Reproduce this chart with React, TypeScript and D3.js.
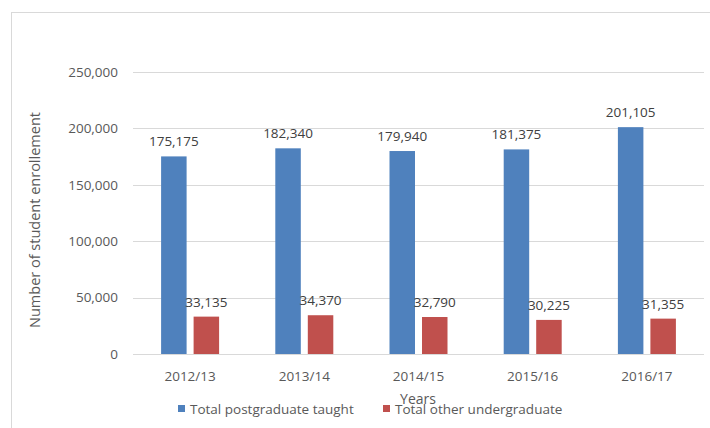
import React from "react";
import * as d3 from "d3";

const categories = ["2012/13", "2013/14", "2014/15", "2015/16", "2016/17"];
const postgraduate = [175175, 182340, 179940, 181375, 201105];
const undergraduate = [33135, 34370, 32790, 30225, 31355];
const yTicks = [0, 50000, 100000, 150000, 200000, 250000];
const seriesNames = ["Total postgraduate taught", "Total other undergraduate"];
const colors = ["#4f81bd", "#c0504d"];

const W = 710;
const H = 428;
const font = "'Open Sans', sans-serif";
const textColor = "#595959";

export default function App() {
  const x = d3.scaleBand<string>().domain(categories).range([133, 704]);
  const y = d3.scaleLinear().domain([0, 250000]).range([354, 72]);
  const fmt = d3.format(",");
  const barW = 25.5;
  const gap = 7;
  const series = [postgraduate, undergraduate];

  return (
    <svg width={W} height={H} style={{ position: "absolute", left: 0, top: 0 }}>
      <rect x={0} y={0} width={W} height={H} fill="#fff" />
      <line x1={11.5} y1={12} x2={11.5} y2={H} stroke="#d9d9d9" strokeWidth={1} />
      <line x1={11} y1={12.5} x2={W} y2={12.5} stroke="#d9d9d9" strokeWidth={1} />
      {yTicks.map((t) => (
        <g key={t}>
          <line x1={133} x2={704} y1={Math.round(y(t)) + 0.5} y2={Math.round(y(t)) + 0.5} stroke="#d9d9d9" strokeWidth={1} />
          <text x={118} y={y(t)} dy="0.35em" textAnchor="end" fontFamily={font} fontSize={13.5} fill={textColor}>
            {fmt(t)}
          </text>
        </g>
      ))}
      {categories.map((c, i) => {
        const cx = x(c)! + x.bandwidth() / 2;
        return (
          <g key={c}>
            {series.map((s, j) => {
              const bx = j === 0 ? cx - gap / 2 - barW : cx + gap / 2;
              return (
                <g key={j}>
                  <rect x={bx} y={y(s[i])} width={barW} height={y(0) - y(s[i])} fill={colors[j]} />
                  <text x={bx + barW / 2} y={y(s[i]) - 10} textAnchor="middle" fontFamily={font} fontSize={13.5} fill="#404040">
                    {fmt(s[i])}
                  </text>
                </g>
              );
            })}
            <text x={cx} y={381} textAnchor="middle" fontFamily={font} fontSize={13.5} fill={textColor}>
              {c}
            </text>
          </g>
        );
      })}
      <text x={418} y={404} textAnchor="middle" fontFamily={font} fontSize={14} fill={textColor}>
        Years
      </text>
      <text transform={`translate(40,220) rotate(-90)`} textAnchor="middle" fontFamily={font} fontSize={14.5} fill={textColor}>
        Number of student enrollement
      </text>
      {seriesNames.map((n, j) => {
        const lx = j === 0 ? 178 : 383;
        return (
          <g key={n}>
            <rect x={lx} y={405} width={7} height={7} fill={colors[j]} />
            <text x={lx + 12} y={413.5} fontFamily={font} fontSize={13.5} fill={textColor}>
              {n}
            </text>
          </g>
        );
      })}
    </svg>
  );
}
